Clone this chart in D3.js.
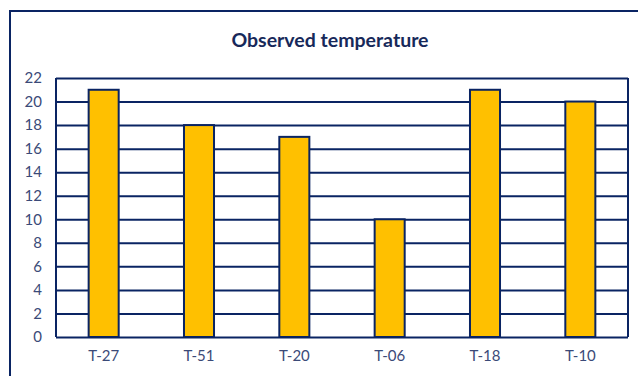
<!DOCTYPE html>
<html>
<head>
<meta charset="utf-8">
<script src="https://cdn.jsdelivr.net/npm/d3@7"></script>
<style>
  html, body { margin: 0; padding: 0; background: #fff; }
  svg { display: block; }
</style>
</head>
<body>
<svg id="chart" width="638" height="376"></svg>
<script>
// Observed temperature per station
const stations = ["T-27", "T-51", "T-20", "T-06", "T-18", "T-10"];
const temperatures = [21, 18, 17, 10, 21, 20];
const yTicks = [0, 2, 4, 6, 8, 10, 12, 14, 16, 18, 20, 22];

const navy = "#0a2463";
const labelColor = "#3b4a78";
const font = "Lato, 'Open Sans', sans-serif";
const svg = d3.select("#chart");

// chart frame (runs past the right and bottom edges)
svg.append("rect")
  .attr("x", 10).attr("y", 11)
  .attr("width", 640).attr("height", 380)
  .attr("fill", "#fff")
  .attr("stroke", navy).attr("stroke-width", 2);

const plot = { left: 56, right: 628, top: 78, bottom: 337 };

const x = d3.scaleBand()
  .domain(stations)
  .range([plot.left, plot.right])
  .paddingInner(0.685)
  .paddingOuter(0.3425);

const y = d3.scaleLinear()
  .domain([0, 22])
  .range([plot.bottom, plot.top]);

// title
svg.append("text")
  .attr("x", 330).attr("y", 47)
  .attr("text-anchor", "middle")
  .attr("font-family", font)
  .attr("font-weight", "bold")
  .attr("font-size", 19.5)
  .attr("fill", "#17295a")
  .text("Observed temperature");

// horizontal gridlines
const grid = d3.axisLeft(y).tickValues(yTicks)
  .tickSize(-(plot.right - plot.left)).tickFormat("");
svg.append("g")
  .attr("transform", `translate(${plot.left},0)`)
  .call(grid)
  .call(g => g.select(".domain").remove())
  .call(g => g.selectAll("line")
    .attr("stroke", navy).attr("stroke-width", 2));

// plot border sides
svg.append("line")
  .attr("x1", plot.left).attr("x2", plot.left)
  .attr("y1", plot.top).attr("y2", plot.bottom)
  .attr("stroke", navy).attr("stroke-width", 2);
svg.append("line")
  .attr("x1", plot.right).attr("x2", plot.right)
  .attr("y1", plot.top).attr("y2", plot.bottom)
  .attr("stroke", navy).attr("stroke-width", 2);

// bars
svg.append("g")
  .selectAll("rect")
  .data(temperatures)
  .join("rect")
  .attr("x", (d, i) => x(stations[i]))
  .attr("y", d => y(d))
  .attr("width", x.bandwidth())
  .attr("height", d => y(0) - y(d))
  .attr("fill", "#ffc000")
  .attr("stroke", navy)
  .attr("stroke-width", 2);

// y-axis labels
const yAxis = d3.axisLeft(y).tickValues(yTicks).tickSize(0).tickPadding(14);
svg.append("g")
  .attr("transform", `translate(${plot.left},0)`)
  .call(yAxis)
  .call(g => g.select(".domain").remove())
  .call(g => g.selectAll("text")
    .attr("font-family", font)
    .attr("font-size", 15)
    .attr("fill", labelColor));

// x-axis labels
const xAxis = d3.axisBottom(x).tickSize(0).tickPadding(13);
svg.append("g")
  .attr("transform", `translate(0,${plot.bottom})`)
  .call(xAxis)
  .call(g => g.select(".domain").remove())
  .call(g => g.selectAll("text")
    .attr("font-family", font)
    .attr("font-size", 15)
    .attr("fill", labelColor));
</script>
</body>
</html>
